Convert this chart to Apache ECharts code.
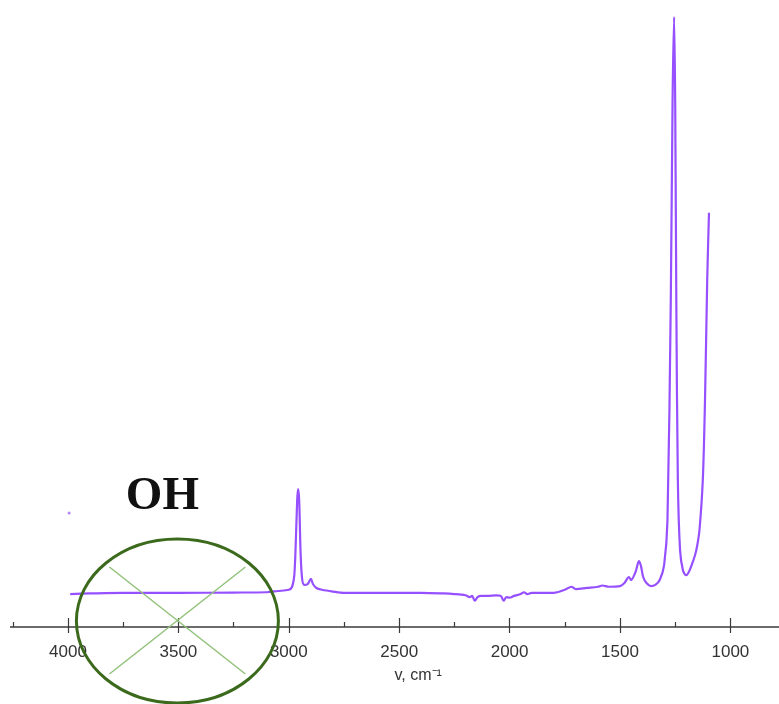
<!DOCTYPE html>
<html>
<head>
<meta charset="utf-8">
<title>IR spectrum</title>
<script src="https://cdn.jsdelivr.net/npm/echarts@6.0.0/dist/echarts.min.js"></script>
<style>
    html, body { margin: 0; padding: 0; background: #fff; }
    #chart { width: 779px; height: 704px; }
</style>
</head>
<body>
<div id="chart"></div>
<script>
// wavenumber, cm-1
var wavenumbers = [
    3990, 3900, 3750, 3500, 3250, 3100, 3050, 3000, 2985, 2975,
    2968, 2962, 2958, 2953, 2947, 2940, 2930, 2915, 2900, 2890,
    2875, 2850, 2800, 2750, 2700, 2600, 2500, 2400, 2300, 2250,
    2200, 2180, 2170, 2158, 2145, 2130, 2100, 2060, 2040, 2027,
    2015, 2000, 1980, 1950, 1935, 1920, 1900, 1850, 1800, 1750,
    1720, 1700, 1650, 1600, 1580, 1550, 1500, 1480, 1460, 1450,
    1430, 1414, 1405, 1395, 1380, 1360, 1340, 1320, 1300, 1285,
    1270, 1262, 1255, 1250, 1245, 1238, 1228, 1215, 1201, 1190,
    1175, 1160, 1150, 1140, 1125, 1115, 1105, 1097
];
// absorbance (arb. units)
var absorbance = [
    5.4, 5.5, 5.6, 5.6, 5.65, 5.7, 5.9, 6.1, 6.6, 8.5,
    14.3, 20.8, 22.6, 20.8, 12.6, 8.0, 6.9, 7.0, 7.9, 7.0,
    6.4, 6.1, 5.8, 5.6, 5.6, 5.6, 5.6, 5.6, 5.5, 5.4,
    5.2, 4.9, 5.1, 4.3, 4.9, 5.1, 5.1, 5.2, 5.1, 4.3,
    4.9, 4.8, 5.1, 5.4, 5.7, 5.4, 5.6, 5.6, 5.6, 6.1,
    6.6, 6.2, 6.4, 6.6, 6.8, 6.6, 6.7, 7.2, 8.2, 7.7,
    9.0, 10.8, 10.0, 8.2, 7.2, 6.7, 6.9, 7.7, 10.2, 17.5,
    53.6, 86, 100, 86, 53.6, 24.1, 12.6, 9.3, 8.5, 8.9,
    10.2, 11.8, 13.4, 15.9, 24.1, 37.2, 56.9, 67.9
];
// stray point left of the spectrum
var strayPoint = [[3995, 18.7]];
var axisName = 'v, cm\u207B\u00B9';

var specData = wavenumbers.map(function (w, i) { return [w, absorbance[i]]; });

var chart = echarts.init(document.getElementById('chart'));
var axisColor = '#3a3a3a';
var option = {
    animation: false,
    backgroundColor: '#fff',
    grid: { left: -42.4, right: -61.8, top: 17, bottom: 77, outerBoundsMode: 'none', containLabel: false },
    xAxis: [
        {
            type: 'value', inverse: true, min: 500, max: 4500, interval: 500,
            splitLine: { show: false },
            axisLine: { lineStyle: { color: axisColor, width: 1.5 } },
            axisTick: { length: 6, lineStyle: { color: axisColor, width: 1.2 } },
            axisLabel: {
                margin: 17, color: '#333', fontSize: 17,
                fontFamily: 'Liberation Sans, Arial, sans-serif',
                formatter: function (v) { return (v >= 1000 && v <= 4000) ? String(v) : ''; }
            },
            name: axisName, nameLocation: 'middle', nameGap: 41,
            nameTextStyle: { color: '#333', fontSize: 16, fontFamily: 'Liberation Sans, Arial, sans-serif', padding: [0, 0, 0, 38] }
        },
        {
            type: 'value', inverse: true, min: 500, max: 4500, interval: 500,
            position: 'bottom', splitLine: { show: false },
            axisLine: { show: false },
            axisLabel: { show: false },
            axisTick: { inside: true, length: 9, lineStyle: { color: axisColor, width: 1.2 } },
            minorTick: { show: true, splitNumber: 2, length: 5, lineStyle: { color: axisColor, width: 1.2 } }
        }
    ],
    yAxis: { type: 'value', min: 0, max: 100, show: false },
    series: [
        {
            type: 'line', data: specData, showSymbol: false, smooth: 0.3,
            lineStyle: { color: '#9650ff', width: 2.2 }
        },
        {
            type: 'scatter', data: strayPoint, symbolSize: 3,
            itemStyle: { color: '#a066f5' }
        }
    ]
};
chart.setOption(option);

// OH annotation, placed around 3500 cm-1 on the axis
var c = chart.convertToPixel({ xAxisIndex: 0, yAxisIndex: 0 }, [3500, 0]);
var cx = c[0] - 1, cy = c[1] - 6;
chart.setOption({
    graphic: [
        {
            // axis in the original starts a little in from the left edge
            type: 'rect', shape: { x: 0, y: c[1] - 10, width: 10, height: 20 },
            style: { fill: '#fff' }, z: 9
        },
        {
            type: 'line', shape: { x1: cx - 68, y1: cy - 54, x2: cx + 68, y2: cy + 53 },
            style: { stroke: '#92c27a', lineWidth: 1.5 }, z: 10
        },
        {
            type: 'line', shape: { x1: cx - 68, y1: cy + 53, x2: cx + 68, y2: cy - 54 },
            style: { stroke: '#92c27a', lineWidth: 1.5 }, z: 10
        },
        {
            type: 'ellipse', shape: { cx: cx, cy: cy, rx: 101, ry: 82 },
            style: { fill: 'none', stroke: '#3b6a1c', lineWidth: 3 }, z: 11
        },
        {
            type: 'text', x: cx - 15, y: cy - 124,
            style: {
                text: 'OH', font: 'bold 47px "Liberation Serif", "Times New Roman", serif',
                fill: '#111', align: 'center', verticalAlign: 'middle'
            }, z: 11
        }
    ]
});
</script>
</body>
</html>
